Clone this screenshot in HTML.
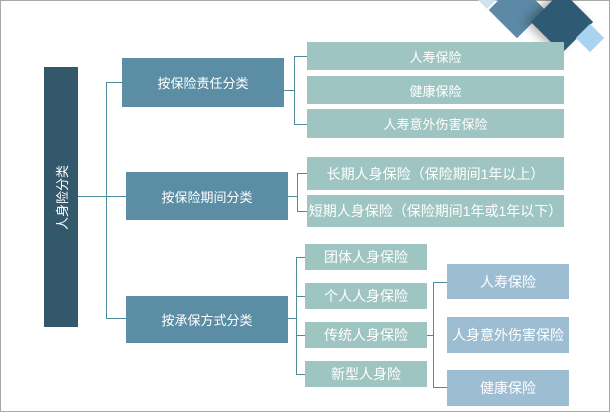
<!DOCTYPE html>
<html><head><meta charset="utf-8"><style>
body{margin:0;width:610px;height:412px;background:#fff;position:relative;overflow:hidden;font-family:"Liberation Sans","Noto Sans CJK SC",sans-serif}
.frame{position:absolute;left:0;top:0;width:608px;height:410px;border:1px solid #a8a8a8}
.b{position:absolute;color:#fff;display:flex;align-items:center;justify-content:center;font-size:13px;white-space:nowrap}
.l{position:absolute;background:#4f8c9a}
.d{position:absolute;transform:rotate(45deg)}
</style></head><body>
<div class="frame"></div>
<div class="d" style="left:497px;top:-10px;width:40px;height:40px;background:#5c89a6"></div>
<div class="d" style="left:540px;top:0px;width:44px;height:44px;background:#2e5a74;box-shadow:-4px 4px 10px rgba(0,0,0,.3)"></div>
<div class="d" style="left:580px;top:28px;width:20px;height:20px;background:#a9d3ef"></div>
<div class="d" style="left:480px;top:-8px;width:14px;height:14px;background:#cfe3ef"></div>

<div class="b" style="left:44px;top:67px;width:34px;height:260px;background:#33576b"><span style="transform:rotate(-90deg);display:block">人身险分类</span></div>
<div class="l" style="left:78px;top:196px;width:29px;height:1px"></div>
<div class="l" style="left:106px;top:82px;width:1px;height:237px"></div>
<div class="l" style="left:106px;top:82px;width:16px;height:1px"></div>
<div class="l" style="left:106px;top:196px;width:20px;height:1px"></div>
<div class="l" style="left:106px;top:318px;width:20px;height:1px"></div>

<div class="b" style="left:122px;top:58px;width:162px;height:49px;background:#5b8ea5">按保险责任分类</div>
<div class="b" style="left:126px;top:172px;width:162px;height:48px;background:#5b8ea5">按保险期间分类</div>
<div class="b" style="left:126px;top:296px;width:162px;height:47px;background:#5b8ea5">按承保方式分类</div>

<div class="l" style="left:284px;top:90px;width:10px;height:1px"></div>
<div class="l" style="left:294px;top:56px;width:1px;height:69px"></div>
<div class="l" style="left:294px;top:56px;width:13px;height:1px"></div>
<div class="l" style="left:294px;top:124px;width:13px;height:1px"></div>
<div class="b" style="left:307px;top:42px;width:257px;height:28px;background:#9fc5c2">人寿保险</div>
<div class="b" style="left:307px;top:76px;width:257px;height:28px;background:#9fc5c2">健康保险</div>
<div class="b" style="left:307px;top:109px;width:257px;height:29px;background:#9fc5c2">人寿意外伤害保险</div>

<div class="l" style="left:288px;top:196px;width:9px;height:1px"></div>
<div class="l" style="left:297px;top:173px;width:1px;height:39px"></div>
<div class="l" style="left:297px;top:173px;width:10px;height:1px"></div>
<div class="l" style="left:297px;top:211px;width:10px;height:1px"></div>
<div class="b" style="left:307px;top:157px;width:257px;height:33px;background:#9fc5c2;font-size:14px">长期人身保险（保险期间1年以上）</div>
<div class="b" style="left:307px;top:195px;width:257px;height:32px;background:#9fc5c2;font-size:14px">短期人身保险（保险期间1年或1年以下）</div>

<div class="l" style="left:288px;top:318px;width:8px;height:1px"></div>
<div class="l" style="left:296px;top:257px;width:1px;height:118px"></div>
<div class="l" style="left:296px;top:257px;width:9px;height:1px"></div>
<div class="l" style="left:296px;top:296px;width:9px;height:1px"></div>
<div class="l" style="left:296px;top:335px;width:9px;height:1px"></div>
<div class="l" style="left:296px;top:374px;width:9px;height:1px"></div>
<div class="b" style="left:305px;top:244px;width:122px;height:26px;background:#9fc5c2;font-size:14px">团体人身保险</div>
<div class="b" style="left:305px;top:283px;width:122px;height:26px;background:#9fc5c2;font-size:14px">个人人身保险</div>
<div class="b" style="left:305px;top:322px;width:122px;height:26px;background:#9fc5c2;font-size:14px">传统人身保险</div>
<div class="b" style="left:305px;top:361px;width:122px;height:26px;background:#9fc5c2;font-size:14px">新型人身险</div>

<div class="l" style="left:427px;top:335px;width:6px;height:1px"></div>
<div class="l" style="left:433px;top:282px;width:1px;height:106px"></div>
<div class="l" style="left:433px;top:282px;width:14px;height:1px"></div>
<div class="l" style="left:433px;top:387px;width:14px;height:1px"></div>
<div class="b" style="left:447px;top:264px;width:122px;height:35px;background:#9dbdd3;font-size:14px">人寿保险</div>
<div class="b" style="left:447px;top:317px;width:122px;height:36px;background:#9dbdd3;font-size:14px">人身意外伤害保险</div>
<div class="b" style="left:447px;top:370px;width:122px;height:36px;background:#9dbdd3;font-size:14px">健康保险</div>
</body></html>
